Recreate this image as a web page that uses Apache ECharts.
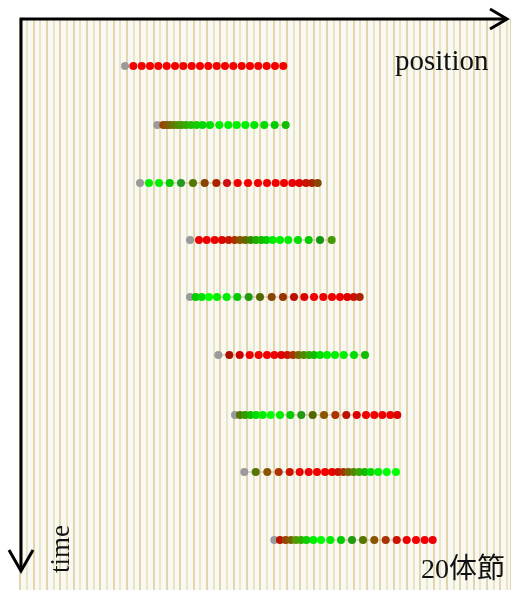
<!DOCTYPE html>
<html>
<head>
<meta charset="utf-8">
<script src="https://cdn.jsdelivr.net/npm/echarts@6/dist/echarts.min.js"></script>
<style>
html, body { margin: 0; padding: 0; background: #fff; }
#chart { width: 511px; height: 594px; }
</style>
</head>
<body>
<div id="chart"></div>
<script>
// time of each row (top -> bottom)
var rowTime = [66, 125, 183, 240, 297, 355, 415, 472, 540];

// position of each cell in a row, first one is the grey cell
var rowPos = [
	[125, 133.3, 141.7, 150, 158.3, 166.7, 175, 183.3, 191.7, 200, 208.3, 216.7, 225, 233.3, 241.7, 250, 258.3, 266.7, 275, 283.3],
	[157.3, 163.3, 166.5, 170, 173.7, 177.5, 181.5, 186, 191, 196.5, 202.5, 210, 219.3, 228.3, 236.7, 245.3, 254.3, 264.3, 274.7, 285.7],
	[140, 149, 159, 169.7, 181, 193, 204.7, 216.3, 227, 237.7, 248, 258, 267, 275.7, 284, 292.3, 299.3, 306, 312, 317.7],
	[190, 199, 206.7, 214.7, 222, 228.7, 234.7, 240, 245.3, 250.7, 256, 261.3, 266.3, 272.7, 280, 288.3, 298, 308.7, 320, 331.7],
	[190, 195.7, 201.7, 209, 217, 226.7, 237.3, 248.7, 260, 271.7, 283, 294, 304.3, 314, 323.3, 332, 340, 347.3, 353.7, 359.7],
	[218.3, 229.3, 239.7, 249.7, 258.7, 267, 274.3, 281.3, 287.3, 293, 298.3, 303.7, 309, 314, 320, 327, 335, 343.7, 354, 365],
	[235, 240, 245, 250.3, 256, 262.7, 270.7, 280, 290.3, 301.3, 312.7, 324, 335.3, 346.3, 356.7, 366, 374.3, 382.3, 390.3, 397.3],
	[244.3, 255.7, 267.3, 278.7, 289.7, 299.7, 308.7, 317, 325, 332, 338, 343.3, 348.3, 353.7, 359, 364.7, 370.7, 378.3, 386.7, 396],
	[274.3, 280, 285.7, 291, 296, 301, 306.3, 313.3, 321, 330.3, 341, 352, 363, 374.3, 385.7, 396.7, 406.7, 416, 424.7, 432.7]
];

// colour of each cell (oscillation phase)
var rowColor = [
	['#9a9a9a', '#f50000', '#f50000', '#f50000', '#f50000', '#f50000', '#f50000', '#f50000', '#f50000', '#f50000', '#f50000', '#f50000', '#f50000', '#f50000', '#f50000', '#f50000', '#f50000', '#f50000', '#f50000', '#f50000'],
	['#9a9a9a', '#994400', '#885500', '#776600', '#667700', '#558800', '#449900', '#33aa00', '#22bb00', '#11cc00', '#00d800', '#00e000', '#00ee00', '#00f000', '#00f000', '#00f000', '#00e800', '#00dd00', '#00cc00', '#11bb00'],
	['#9a9a9a', '#00ee00', '#00ee00', '#00cc00', '#229922', '#557700', '#884400', '#aa2200', '#cc1111', '#ee0000', '#f00000', '#f00000', '#f00000', '#f00000', '#f00000', '#ee0000', '#dd0000', '#cc1100', '#aa2200', '#884400'],
	['#9a9a9a', '#ee0000', '#f00000', '#ee0000', '#dd0000', '#cc1100', '#aa3300', '#885500', '#666600', '#338800', '#22aa00', '#11bb00', '#00cc00', '#00ee00', '#00ee00', '#00ee00', '#00dd00', '#00cc00', '#119911', '#449900'],
	['#9a9a9a', '#00cc00', '#00dd00', '#00ff00', '#00ee00', '#00ee00', '#00cc00', '#229911', '#556600', '#884400', '#993300', '#bb1100', '#dd0000', '#f00000', '#f00000', '#f00000', '#ee0000', '#dd0000', '#cc1100', '#aa2200'],
	['#9a9a9a', '#aa1100', '#cc0000', '#ee0000', '#f00000', '#f00000', '#ee0000', '#dd0000', '#cc1100', '#aa3300', '#776600', '#558800', '#33aa00', '#11bb00', '#00dd00', '#00ee00', '#00ee00', '#00ee00', '#00dd00', '#11bb00'],
	['#9a9a9a', '#557700', '#339900', '#11bb00', '#00dd00', '#00ee00', '#00ff00', '#00ee00', '#00cc00', '#229911', '#556600', '#885500', '#aa3300', '#bb1100', '#dd0000', '#f00000', '#f00000', '#f00000', '#ee0000', '#dd0000'],
	['#9a9a9a', '#557700', '#885500', '#aa3300', '#cc1100', '#ee0000', '#f00000', '#f00000', '#f00000', '#ee0000', '#cc1100', '#aa3300', '#776600', '#558800', '#33aa00', '#11bb00', '#00dd00', '#00ee00', '#00ff00', '#00ff00'],
	['#9a9a9a', '#bb1100', '#994400', '#776600', '#559900', '#33aa00', '#11cc00', '#00ee00', '#00ff00', '#00ee00', '#00cc00', '#229911', '#557700', '#885500', '#aa3300', '#cc1100', '#ee0000', '#f00000', '#f00000', '#ee0000']
];

var stripeStep = 6.67;

var dom = document.getElementById('chart');
var myChart = echarts.init(dom);

var series = [];
rowPos.forEach(function (xs, r) {
	var pts = xs.map(function (x, i) {
		return { value: [x, rowTime[r]], itemStyle: { color: rowColor[r][i] } };
	});
	series.push({
		type: 'line',
		data: pts,
		symbol: 'circle',
		symbolSize: 8,
		showSymbol: true,
		lineStyle: { color: '#c9b48a', width: 1 },
		silent: true,
		animation: false,
		z: 3
	});
});

var option = {
	animation: false,
	backgroundColor: '#ffffff',
	grid: {
		left: 20,
		right: 0,
		top: 19,
		bottom: 4,
		show: true,
		backgroundColor: '#f8f9f3',
		borderWidth: 0
	},
	xAxis: {
		type: 'value',
		min: stripeStep * 3,
		max: 511,
		interval: stripeStep,
		axisLine: { show: false },
		axisTick: { show: false },
		axisLabel: { show: false },
		splitLine: {
			show: true,
			lineStyle: { color: ['#dcc793', '#e8ddb8'], width: 1.5 }
		}
	},
	yAxis: {
		type: 'value',
		inverse: true,
		min: 19,
		max: 590,
		axisLine: { show: false },
		axisTick: { show: false },
		axisLabel: { show: false },
		splitLine: { show: false }
	},
	graphic: [
		{ type: 'polyline', shape: { points: [[21, 570], [21, 19], [507, 19]] }, style: { stroke: '#000', lineWidth: 3, fill: null }, z: 10 },
		{ type: 'polyline', shape: { points: [[490, 9], [507, 19], [490, 29]] }, style: { stroke: '#000', lineWidth: 3, fill: null }, z: 10 },
		{ type: 'polyline', shape: { points: [[9, 550], [21, 571], [33, 550]] }, style: { stroke: '#000', lineWidth: 3, fill: null }, z: 10 },
		{ type: 'text', left: 395, top: 48, style: { text: 'position', font: '29px "Liberation Serif"', fill: '#111' }, z: 10 },
		{ type: 'text', x: 48, y: 573, rotation: Math.PI / 2, style: { text: 'time', font: '27px "Liberation Serif"', fill: '#111', align: 'left', verticalAlign: 'top' }, z: 10 },
		{ type: 'text', left: 421, top: 557, style: { text: '20体節', font: '28px "Liberation Serif", "Noto Sans CJK JP"', fill: '#111' }, z: 10 }
	],
	series: series
};

if (option && typeof option === 'object') {
	myChart.setOption(option, true);
}
</script>
</body>
</html>
